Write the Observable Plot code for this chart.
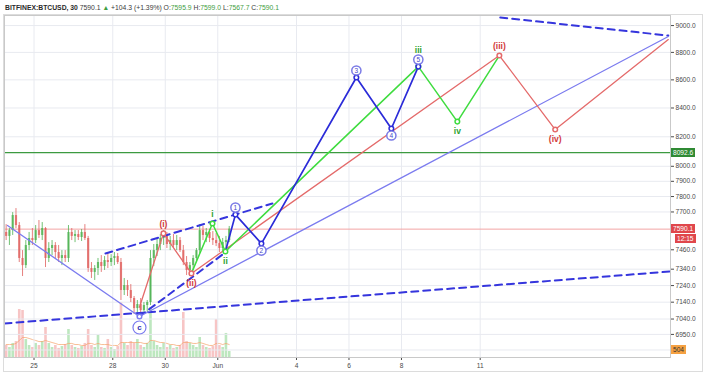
<!DOCTYPE html>
<html><head><meta charset="utf-8">
<script src="https://cdn.jsdelivr.net/npm/d3@7"></script>
<script src="https://cdn.jsdelivr.net/npm/@observablehq/plot@0.6"></script>
<style>
body{margin:0;background:#fff;font-family:"Liberation Sans",Arial,sans-serif;}
#wrap{position:relative;width:709px;height:374px;overflow:hidden;background:#fff;}
#wrap svg{position:absolute;left:0;top:0;}
.hdr{position:absolute;left:5px;top:3px;font-size:6.8px;color:#3a3a3a;white-space:nowrap;line-height:9px;}
.hdr b{font-weight:bold;color:#2a2a2a;}
.hdr .g{color:#3f9e43;}
.box{position:absolute;font-size:6.6px;padding:0 2px;line-height:9px;height:9px;white-space:nowrap;}
.outer{position:absolute;left:3px;top:14px;width:698px;height:356px;border:1px solid #dcdcdc;pointer-events:none;}
</style></head><body><div id="wrap"></div>
<script>
// ---------- data ----------
const headerSymbol = "BITFINEX:BTCUSD, 30";
const headerLast = "7590.1";
const headerChange = "+104.3 (+1.39%)";
const headerOHLC = [["O:", "7595.9"], ["H:", "7599.0"], ["L:", "7567.7"], ["C:", "7590.1"]];

const xStart = "2018-05-23T21:00";
const xEnd = "2018-06-18T06:00";
const xTickDates = ["2018-05-25T00:00","2018-05-28T00:00","2018-05-30T00:00","2018-06-01T00:00","2018-06-04T00:00","2018-06-06T00:00","2018-06-08T00:00","2018-06-11T00:00"];
const xTickLabels = ["25","28","30","Jun","4","6","8","11"];
const yDomain = [6817, 9076];
const yTicks = [9000, 8800, 8600, 8400, 8200, 8000, 7900, 7800, 7700, 7460, 7340, 7240, 7140, 7040, 6950];
const yHiddenGrid = [6860];

// candles (3-hour groups)
const candleStart = "2018-05-23T21:00";
const candleStepHours = 3;
const candleOpen  = [7569,7544,7581,7677,7613,7406,7362,7487,7531,7518, 7581,7550,7594,7406,7468,7487,7443,7406,7424,7406, 7569,7544,7556,7537,7569,7531,7344,7320,7344,7381, 7356,7393,7381,7406,7418,7381,7210,7240,7210,7162, 7102,7126,7090,7120,7138,7406,7455,7493,7531,7544, 7493,7518,7487,7518,7455,7381,7332,7362,7406,7455, 7581,7550,7569,7531,7518,7499,7468,7505,7518];
const candleHigh  = [7619,7594,7696,7722,7632,7455,7518,7569,7594,7613, 7645,7632,7600,7505,7518,7505,7487,7455,7455,7613, 7594,7581,7581,7588,7619,7544,7381,7362,7406,7424, 7418,7443,7430,7443,7437,7406,7283,7271,7246,7174, 7150,7162,7138,7150,7455,7493,7531,7556,7581,7569, 7544,7556,7550,7537,7487,7418,7381,7424,7468,7619, 7607,7594,7588,7575,7563,7544,7531,7544,7607];
const candleLow   = [7518,7487,7550,7594,7381,7295,7344,7455,7487,7499, 7531,7518,7350,7381,7424,7406,7381,7362,7381,7381, 7518,7505,7518,7512,7518,7320,7283,7271,7301,7320, 7332,7344,7356,7362,7369,7150,7180,7174,7138,7067, 7055,7061,7073,7079,7120,7356,7418,7455,7487,7468, 7455,7468,7455,7443,7362,7301,7295,7332,7381,7437, 7518,7505,7505,7487,7480,7443,7443,7455,7505];
const candleClose = [7544,7581,7677,7613,7406,7362,7487,7531,7518,7581, 7550,7594,7406,7468,7487,7443,7406,7424,7406,7569, 7544,7556,7537,7569,7531,7344,7320,7344,7381,7356, 7393,7381,7406,7418,7381,7210,7240,7210,7162,7102, 7126,7090,7120,7138,7406,7455,7493,7531,7544,7493, 7518,7487,7518,7455,7381,7332,7362,7406,7455,7581, 7550,7569,7531,7518,7499,7468,7505,7518,7590.1];
const volume = [1010,840,1180,1340,4030,3950,1510,1010,840,1180, 1010,1340,2520,1180,840,1010,760,920,1090,2350, 1010,840,760,920,1180,2350,1010,840,1850,840, 760,1510,840,670,920,4620,1180,1010,1340,1180, 1510,1010,840,1180,4200,1340,1010,840,1180,840, 1010,760,840,1010,3780,1340,1180,1010,840,1680, 1010,840,760,920,3190,1010,840,2020,504];
const volumeMA = [1090,1090,1090,1180,1430,1680,1680,1600,1510,1430, 1340,1340,1430,1340,1260,1180,1090,1090,1090,1180, 1180,1090,1090,1010,1010,1180,1180,1090,1180,1090, 1090,1090,1010,1010,1010,1260,1260,1260,1260,1260, 1260,1260,1180,1180,1430,1430,1340,1260,1260,1180, 1090,1090,1010,1010,1260,1260,1260,1180,1180,1260, 1180,1090,1010,1010,1180,1180,1090,1180,1090];

// reference levels
const levelGreen = 8092.6;
const levelLast = 7590.1;
const lastCountdown = "12:15";
const lastVolume = 504;

// big correction line (down to c, then up)
const bigTimes = ["2018-05-23T23:45","2018-05-29T00:25","2018-06-18T04:00"];
const bigPrices = [7613, 7055, 8918];
const bigLabels = ["c"];
// dashed trend lines
const dashLines = [
  {times: ["2018-05-23T21:00","2018-06-18T06:00"], prices: [7014, 7326]},
  {times: ["2018-05-27T17:20","2018-06-03T02:00"], prices: [7437, 7755]},
  {times: ["2018-05-29T00:25","2018-06-01T08:00"], prices: [7055, 7449]},
  {times: ["2018-06-11T18:20","2018-06-18T04:00"], prices: [9061, 8925]}
];
// red (i)-(v)
const redTimes = ["2018-05-29T00:25","2018-05-29T22:20","2018-05-30T23:55","2018-06-11T17:30","2018-06-13T20:35","2018-06-18T04:00"];
const redPrices = [7110, 7563, 7314, 8777, 8250, 8895];
const redLabels = ["(i)","(ii)","(iii)","(iv)"];
// green i-v
const greenTimes = ["2018-05-30T23:55","2018-05-31T19:10","2018-06-01T07:00","2018-06-08T15:25","2018-06-10T03:05","2018-06-11T17:30"];
const greenPrices = [7314, 7626, 7449, 8696, 8305, 8777];
const greenLabels = ["i","ii","iii","iv"];
// blue 1-5
const blueTimes = ["2018-06-01T07:00","2018-06-01T16:10","2018-06-02T15:55","2018-06-06T06:45","2018-06-07T14:45","2018-06-08T15:25"];
const bluePrices = [7449, 7683, 7499, 8617, 8257, 8696];
const blueLabels = ["1","2","3","4","5"];

// ---------- build ----------
const parse = s => new Date(s);
const t0 = parse(candleStart);
const candles = candleOpen.map((o, i) => ({
  t: new Date(+t0 + (i + 0.5) * candleStepHours * 3600e3),
  o, h: candleHigh[i], l: candleLow[i], c: candleClose[i],
  v: volume[i], ma: volumeMA[i], up: candleClose[i] >= o
}));
const pts = (times, prices) => times.map((t, i) => ({t: parse(t), p: prices[i], peak: i > 0 && prices[i] > prices[i - 1]}));
const labelled = (times, prices, labels) => pts(times, prices).slice(1, 1 + labels.length).map((d, i) => ({...d, label: labels[i]}));

const bigPts = pts(bigTimes, bigPrices);
const redPts = pts(redTimes, redPrices);
const greenPts = pts(greenTimes, greenPrices);
const bluePts = pts(blueTimes, bluePrices);
const bigLab = labelled(bigTimes, bigPrices, bigLabels);
const redLab = labelled(redTimes, redPrices, redLabels);
const greenLab = labelled(greenTimes, greenPrices, greenLabels);
const blueLab = labelled(blueTimes, bluePrices, blueLabels);
const dashRows = dashLines.flatMap((l, k) => pts(l.times, l.prices).map(d => ({...d, k})));
// a green label that shares its vertex with a circled blue label sits higher
const blueKeys = new Set(blueLab.map(d => +d.t));
const greenShared = greenLab.filter(d => blueKeys.has(+d.t));
const greenOwn = greenLab.filter(d => !blueKeys.has(+d.t));

const xLabelMap = new Map(xTickDates.map((d, i) => [+parse(d), xTickLabels[i]]));
const common = {width: 709, height: 374, marginLeft: 4, marginRight: 39, marginTop: 15, marginBottom: 17};
const xDomain = [parse(xStart), parse(xEnd)];

const RED = "#e0625f", GREEN = "#4fb352";
const volPlot = Plot.plot({
  ...common,
  style: {background: "#fff"},
  x: {type: "time", domain: xDomain, axis: null},
  y: {domain: [0, 28728], axis: null},
  marks: [
    Plot.ruleX(candles, {filter: d => !d.up, x: "t", y1: 0, y2: "v", stroke: "#f08c8c", strokeWidth: 2.6, strokeOpacity: 0.5}),
    Plot.ruleX(candles, {filter: d => d.up, x: "t", y1: 0, y2: "v", stroke: "#7ccf80", strokeWidth: 2.6, strokeOpacity: 0.5}),
    Plot.line(candles, {x: "t", y: "ma", stroke: "#f5a36a", strokeWidth: 1, strokeOpacity: 0.7})
  ]
});

const main = Plot.plot({
  ...common,
  style: {background: "transparent", fontSize: "6.6px", color: "#4a4a4a", fontFamily: "Liberation Sans, Arial, sans-serif"},
  x: {type: "time", domain: xDomain, ticks: xTickDates.map(parse), tickFormat: d => xLabelMap.get(+d), tickSize: 3, tickPadding: 3, label: null},
  y: {type: "log", domain: yDomain, axis: "right", ticks: yTicks, tickFormat: d => d.toFixed(1), tickSize: 3, tickPadding: 2, label: null},
  marks: [
    Plot.ruleY(yTicks.concat(yHiddenGrid), {stroke: "#e8eaf0"}),
    Plot.ruleX(xTickDates.map(parse), {stroke: "#e8eaf0"}),
    Plot.ruleY([levelLast], {stroke: "#f3a5a5", strokeWidth: 1}),
    Plot.ruleY([levelGreen], {stroke: "#3c9a40", strokeWidth: 1.2}),
    // candles
    Plot.ruleX(candles, {x: "t", y1: "l", y2: "h", stroke: d => d.up ? GREEN : RED, strokeWidth: 1, strokeOpacity: 0.8}),
    Plot.ruleX(candles, {x: "t", y1: "o", y2: "c", stroke: d => d.up ? GREEN : RED, strokeWidth: 2.2, strokeOpacity: 0.8}),
    // trend lines
    Plot.line(dashRows, {x: "t", y: "p", z: "k", stroke: "#3535dd", strokeWidth: 2, strokeDasharray: "7,5"}),
    Plot.line(bigPts, {x: "t", y: "p", stroke: "#7b7bef", strokeWidth: 1.3}),
    Plot.line(redPts, {x: "t", y: "p", stroke: "#e46a6a", strokeWidth: 1.3}),
    Plot.line(greenPts, {x: "t", y: "p", stroke: "#3fdc3f", strokeWidth: 1.5}),
    Plot.line(bluePts, {x: "t", y: "p", stroke: "#2b2bd8", strokeWidth: 1.7}),
    // vertex markers
    Plot.dot(bigLab, {x: "t", y: "p", r: 2.3, fill: "white", stroke: "#7b7bef"}),
    Plot.dot(redLab, {x: "t", y: "p", r: 2.3, fill: "white", stroke: "#e46a6a"}),
    Plot.dot(greenLab, {x: "t", y: "p", r: 2.3, fill: "white", stroke: "#3fdc3f"}),
    Plot.dot(blueLab, {x: "t", y: "p", r: 2.3, fill: "white", stroke: "#2b2bd8"}),
    // labels
    Plot.dot(bigLab, {x: "t", y: "p", dy: 11, r: 6.5, fill: "white", stroke: "#7b7bef", strokeWidth: 1.2}),
    Plot.text(bigLab, {x: "t", y: "p", dy: 11, text: "label", fill: "#2e2eb0", fontSize: 8, fontWeight: "bold"}),
    Plot.text(redLab.filter(d => d.peak), {x: "t", y: "p", dy: -9, text: "label", fill: "#d23a3a", fontSize: 8.5, fontWeight: "bold"}),
    Plot.text(redLab.filter(d => !d.peak), {x: "t", y: "p", dy: 10, text: "label", fill: "#d23a3a", fontSize: 8.5, fontWeight: "bold"}),
    Plot.dot(blueLab.filter(d => d.peak), {x: "t", y: "p", dy: -7, r: 4.6, fill: "white", stroke: "#7b7be6"}),
    Plot.dot(blueLab.filter(d => !d.peak), {x: "t", y: "p", dy: 7, r: 4.6, fill: "white", stroke: "#7b7be6"}),
    Plot.text(blueLab.filter(d => d.peak), {x: "t", y: "p", dy: -7, text: "label", fill: "#4646c8", fontSize: 6.5}),
    Plot.text(blueLab.filter(d => !d.peak), {x: "t", y: "p", dy: 7, text: "label", fill: "#4646c8", fontSize: 6.5}),
    Plot.text(greenOwn.filter(d => d.peak), {x: "t", y: "p", dy: -9, text: "label", fill: "#2ea22e", fontSize: 8.5, fontWeight: "bold"}),
    Plot.text(greenOwn.filter(d => !d.peak), {x: "t", y: "p", dy: 10, text: "label", fill: "#2ea22e", fontSize: 8.5, fontWeight: "bold"}),
    Plot.text(greenShared, {x: "t", y: "p", dy: -16, text: "label", fill: "#2ea22e", fontSize: 8.5, fontWeight: "bold"}),
    Plot.frame({stroke: "#c9c9c9"})
  ]
});

const wrap = document.getElementById("wrap");
wrap.appendChild(volPlot);
wrap.appendChild(main);

const hdr = document.createElement("div");
hdr.className = "hdr";
hdr.innerHTML = `<b>${headerSymbol}</b> ${headerLast} <span class="g">&#9650;</span> ${headerChange} ` +
  headerOHLC.map(([k, v]) => `${k}<span class="g">${v}</span>`).join(" ");
wrap.appendChild(hdr);

const outer = document.createElement("div");
outer.className = "outer";
wrap.appendChild(outer);

const yS = main.scale("y");
const vS = volPlot.scale("y");
function box(text, yc, left, bg, fg) {
  const d = document.createElement("div");
  d.className = "box";
  d.textContent = text;
  d.style.left = left + "px";
  d.style.top = (yc - 4.5) + "px";
  d.style.background = bg;
  d.style.color = fg;
  wrap.appendChild(d);
}
box(levelGreen.toFixed(1), yS.apply(levelGreen), 671, "#2f8a34", "#fff");
box(levelLast.toFixed(1), yS.apply(levelLast), 671, "#e0474c", "#fff");
box(lastCountdown, yS.apply(levelLast) + 10, 675, "#e0474c", "#fff");
box(String(lastVolume), vS.apply(lastVolume) - 2, 671, "#f5a142", "#333");
</script></body></html>
